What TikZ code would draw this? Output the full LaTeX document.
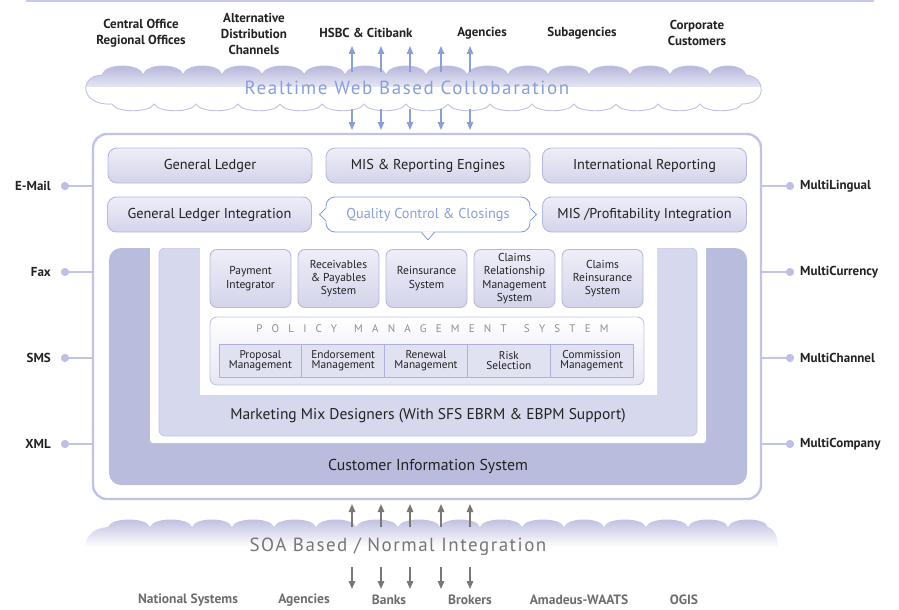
\documentclass[tikz,border=0pt]{standalone}
\usepackage{fontspec}
\setmainfont{PT Sans}
\usetikzlibrary{arrows.meta}
\definecolor{framecol}{HTML}{C0C3E6}
\definecolor{linkcol}{HTML}{C2C4E6}
\definecolor{dotcol}{HTML}{BDC0E4}
\definecolor{boxborder}{HTML}{B6B9DE}
\definecolor{boxtop}{HTML}{EEEEF8}
\definecolor{boxbot}{HTML}{D3D4EA}
\definecolor{custfill}{HTML}{B9BCDD}
\definecolor{mktfill}{HTML}{D6D8ED}
\definecolor{mktborder}{HTML}{C3C6E3}
\definecolor{qcblue}{HTML}{8A9FD6}
\definecolor{arrowblue}{HTML}{8B9FD5}
\definecolor{arrowgray}{HTML}{7B7873}
\definecolor{textdark}{HTML}{222222}
\definecolor{graytext}{HTML}{6D6D70}
\definecolor{soatext}{HTML}{767676}
\definecolor{titlegray}{HTML}{8F8F8F}
\definecolor{cloudtop}{HTML}{AEAFD8}
\definecolor{cloudmid}{HTML}{E4E4F3}
\definecolor{cloudline}{HTML}{C0C2E2}
\definecolor{policyfill}{HTML}{E5E6F4}
\definecolor{cellfill}{HTML}{E1E2F1}
\definecolor{cellborder}{HTML}{AEB2DA}
\definecolor{topline}{HTML}{C6C9E9}
\begin{document}
\begin{tikzpicture}[x=1pt,y=-1pt,
  toplabel/.style={font=\fontsize{13}{16}\selectfont\bfseries, text=textdark, align=center, inner sep=0pt},
  sidelabel/.style={font=\fontsize{13}{14}\selectfont\bfseries, text=textdark, inner sep=0pt},
  botlabel/.style={font=\fontsize{13.5}{14}\selectfont\bfseries, text=graytext, inner sep=0pt},
  bigbox/.style={draw=boxborder, line width=0.9pt, rounded corners=9pt, top color=boxtop, bottom color=boxbot,
    minimum width=204pt, minimum height=35pt, inner sep=0pt, text=textdark, font=\fontsize{14.3}{16}\selectfont},
  smallbox/.style={draw=boxborder, line width=0.9pt, rounded corners=7pt, top color=boxtop, bottom color=boxbot,
    minimum width=81pt, minimum height=58pt, inner sep=0pt, text=textdark, align=center, font=\fontsize{11.5}{13.3}\selectfont},
  cellbox/.style={draw=cellborder, line width=0.8pt, fill=cellfill, minimum width=82.8pt, minimum height=33pt,
    inner sep=0pt, text=textdark, align=center, font=\fontsize{11.3}{10.5}\selectfont},
  dotnode/.style={circle, fill=dotcol, minimum size=8pt, inner sep=0pt},
  link/.style={draw=linkcol, line width=1.3pt},
  uparrowb/.style={draw=arrowblue, line width=1.4pt, -{Triangle[length=8pt,width=6.5pt]}},
  uparrowg/.style={draw=arrowgray, line width=1.4pt, -{Triangle[length=8pt,width=6.5pt]}},
  plaintext/.style={inner sep=0pt}
]
\useasboundingbox (0,0) rectangle (899,610);

% top line
\draw[topline, line width=2pt] (26,1) -- (874,1);

% top labels
\node[toplabel] (tCO) at (141,33) {Central Office\\Regional Offices};
\node[toplabel] (tAD) at (254,34) {Alternative\\Distribution\\Channels};
\node[toplabel] (tHS) at (366,33) {HSBC \& Citibank};
\node[toplabel] (tAG) at (482,33) {Agencies};
\node[toplabel] (tSA) at (582,33) {Subagencies};
\node[toplabel] (tCC) at (697,33) {Corporate\\Customers};

% top cloud
\begin{scope}
\path[clip] (102,75)
  .. controls (105,63) and (140,63) .. (143,75)
  .. controls (146,63) and (180,63) .. (183,75)
  .. controls (186,63) and (219,63) .. (222,75)
  .. controls (225,63) and (259,63) .. (262,75)
  .. controls (265,63) and (301,63) .. (304,75)
  .. controls (307,63) and (342,63) .. (345,75)
  .. controls (348,63) and (383,63) .. (386,75)
  .. controls (389,63) and (423,63) .. (426,75)
  .. controls (429,63) and (464,63) .. (467,75)
  .. controls (470,63) and (505,63) .. (508,75)
  .. controls (511,63) and (545,63) .. (548,75)
  .. controls (551,63) and (586,63) .. (589,75)
  .. controls (592,63) and (627,63) .. (630,75)
  .. controls (633,63) and (667,63) .. (670,75)
  .. controls (673,63) and (707,63) .. (710,75)
  .. controls (713,63) and (743,63) .. (746,75)
  .. controls (766,76) and (768,104) .. (742,104)
  .. controls (738,113) and (704,113) .. (700,104)
  .. controls (696,113) and (662,113) .. (658,104)
  .. controls (654,113) and (620,113) .. (616,104)
  .. controls (612,113) and (578,113) .. (574,104)
  .. controls (570,113) and (536,113) .. (532,104)
  .. controls (528,113) and (494,113) .. (490,104)
  .. controls (486,113) and (452,113) .. (448,104)
  .. controls (444,113) and (410,113) .. (406,104)
  .. controls (402,113) and (368,113) .. (364,104)
  .. controls (360,113) and (326,113) .. (322,104)
  .. controls (318,113) and (284,113) .. (280,104)
  .. controls (276,113) and (242,113) .. (238,104)
  .. controls (234,113) and (200,113) .. (196,104)
  .. controls (192,113) and (158,113) .. (154,104)
  .. controls (150,113) and (116,113) .. (112,104)
  .. controls (80,106) and (78,76) .. (102,75) -- cycle;
\fill[white] (70,55) rectangle (790,120);
\shade[top color=cloudtop, bottom color=cloudmid] (70,62) rectangle (790,86);
\end{scope}
\draw[cloudline, line width=0.9pt] (102,75)
  .. controls (105,63) and (140,63) .. (143,75)
  .. controls (146,63) and (180,63) .. (183,75)
  .. controls (186,63) and (219,63) .. (222,75)
  .. controls (225,63) and (259,63) .. (262,75)
  .. controls (265,63) and (301,63) .. (304,75)
  .. controls (307,63) and (342,63) .. (345,75)
  .. controls (348,63) and (383,63) .. (386,75)
  .. controls (389,63) and (423,63) .. (426,75)
  .. controls (429,63) and (464,63) .. (467,75)
  .. controls (470,63) and (505,63) .. (508,75)
  .. controls (511,63) and (545,63) .. (548,75)
  .. controls (551,63) and (586,63) .. (589,75)
  .. controls (592,63) and (627,63) .. (630,75)
  .. controls (633,63) and (667,63) .. (670,75)
  .. controls (673,63) and (707,63) .. (710,75)
  .. controls (713,63) and (743,63) .. (746,75)
  .. controls (766,76) and (768,104) .. (742,104)
  .. controls (738,113) and (704,113) .. (700,104)
  .. controls (696,113) and (662,113) .. (658,104)
  .. controls (654,113) and (620,113) .. (616,104)
  .. controls (612,113) and (578,113) .. (574,104)
  .. controls (570,113) and (536,113) .. (532,104)
  .. controls (528,113) and (494,113) .. (490,104)
  .. controls (486,113) and (452,113) .. (448,104)
  .. controls (444,113) and (410,113) .. (406,104)
  .. controls (402,113) and (368,113) .. (364,104)
  .. controls (360,113) and (326,113) .. (322,104)
  .. controls (318,113) and (284,113) .. (280,104)
  .. controls (276,113) and (242,113) .. (238,104)
  .. controls (234,113) and (200,113) .. (196,104)
  .. controls (192,113) and (158,113) .. (154,104)
  .. controls (150,113) and (116,113) .. (112,104)
  .. controls (80,106) and (78,76) .. (102,75) -- cycle;
\node[plaintext, text=qcblue, font=\fontsize{19}{22}\selectfont\addfontfeatures{LetterSpace=8.5}] (rtw) at (407,88) {Realtime Web Based Collobaration};

% top arrows
\foreach \i/\x in {1/352,2/381,3/410,4/441,5/470}{
  \coordinate (cu\i) at (\x,72);
  \coordinate (cut\i) at (\x,46);
  \draw[uparrowb] (cu\i) -- (cut\i);
  \coordinate (cd\i) at (\x,109);
  \coordinate (cdt\i) at (\x,130);
  \draw[uparrowb] (cd\i) -- (cdt\i);
}

% outer frame
\node[draw=framecol, line width=2.4pt, rounded corners=14pt, fill=white, minimum width=668pt, minimum height=365pt, inner sep=0pt] (frame) at (427,316.5) {};

% rows
\node[bigbox] (gl) at (210,165.5) {General Ledger};
\node[bigbox] (mis) at (428,165.5) {MIS \& Reporting Engines};
\node[bigbox] (ir) at (644.5,165.5) {International Reporting};
\node[bigbox] (gli) at (209.5,214.5) {General Ledger Integration};
\node[bigbox] (mpi) at (644.5,214.5) {MIS /Profitability Integration};
\node[draw=qcblue, line width=0.9pt, rounded corners=9pt, fill=white, minimum width=204pt, minimum height=35pt, inner sep=0pt,
  text=qcblue, font=\fontsize{14.3}{16}\selectfont] (qc) at (428,214.5) {Quality Control \& Closings};
% callout pointers
\fill[white] (qc.south) ++(-7,-1.2) -- ++(14,0) -- (428,239.5) -- cycle;
\draw[qcblue, line width=0.9pt] (qc.south) ++(-6.5,0) -- (428,240) -- ++(6.5,-8);
\fill[white] (qc.west) ++(1.2,-6.5) -- ++(0,13) -- ++(-6.5,-6.5) -- cycle;
\draw[qcblue, line width=0.9pt] (qc.west) ++(0,-6) -- ++(-6,6) -- ++(6,6);
\fill[white] (qc.east) ++(-1.2,-6.5) -- ++(0,13) -- ++(6.5,-6.5) -- cycle;
\draw[qcblue, line width=0.9pt] (qc.east) ++(0,-6) -- ++(6,6) -- ++(-6,6);

% customer information system
\fill[custfill, rounded corners=12pt] (109,248) rectangle (747,485);
\fill[white, rounded corners=3pt] (150,240) rectangle (706,443);
\node[plaintext, text=textdark, font=\fontsize{15.8}{17}\selectfont] (cis) at (428,466) {Customer Information System};
% marketing mix
\filldraw[fill=mktfill, draw=mktborder, line width=0.7pt, rounded corners=6pt] (159,248) rectangle (697,436);
\fill[white] (200,240) rectangle (657,395);
\fill[white] (155,244) rectangle (702,248.4);
\node[plaintext, text=textdark, font=\fontsize{15.5}{17}\selectfont] (mmd) at (428,416) {Marketing Mix Designers (With SFS EBRM \& EBPM Support)};

% small boxes
\node[smallbox] (pay) at (250.5,278.5) {Payment\\Integrator};
\node[smallbox] (rec) at (338.5,278.5) {Receivables\\\& Payables\\System};
\node[smallbox] (rei) at (426.5,278.5) {Reinsurance\\System};
\node[smallbox] (crm) at (514.5,278.5) {Claims\\Relationship\\Management\\System};
\node[smallbox] (crs) at (602.5,278.5) {Claims\\Reinsurance\\System};

% policy management system
\node[draw=mktborder, line width=0.9pt, rounded corners=7pt, top color=white, bottom color=policyfill, minimum width=434pt, minimum height=68pt, inner sep=0pt] (pms) at (427,351) {};
\node[plaintext, text=titlegray, font=\fontsize{11}{12}\selectfont\addfontfeatures{LetterSpace=84}] (pmst) at (432.5,329) {POLICY\hspace{5pt} MANAGEMENT\hspace{5pt} SYSTEM};
\node[cellbox] (c1) at (260.4,360.5) {Proposal\\Management};
\node[cellbox] (c2) at (343.2,360.5) {Endorsement\\Management};
\node[cellbox] (c3) at (426.0,360.5) {Renewal\\Management};
\node[cellbox] (c4) at (508.8,360.5) {Risk\\Selection};
\node[cellbox] (c5) at (591.6,360.5) {Commission\\Management};

% left side
\foreach \n/\y/\t in {E/186/E-Mail,F/272/Fax,S/358/SMS,X/444/XML}{
  \node[dotnode] (d\n) at (65,\y) {};
  \draw[link] (d\n.center) -- (d\n -| frame.west);
  \node[dotnode] at (d\n) {};
  \node[sidelabel, anchor=east] (l\n) at (51,\y) {\t};
}
% right side
\foreach \n/\y/\t in {L/186/MultiLingual,C/272/MultiCurrency,H/358/MultiChannel,K/444/MultiCompany}{
  \node[dotnode] (r\n) at (790,\y) {};
  \draw[link] (frame.east |- r\n) -- (r\n.center);
  \node[dotnode] at (r\n) {};
  \node[sidelabel, anchor=west] (m\n) at (800,\y) {\t};
}

% bottom cloud
\shade[top color=cloudtop!85, bottom color=white] (85,547)
  .. controls (86,534) and (95,528) .. (108,527)
  .. controls (111,517) and (147,517) .. (150,527)
  .. controls (153,517) and (189,517) .. (192,527)
  .. controls (195,517) and (229,517) .. (232,527)
  .. controls (235,517) and (271,517) .. (274,527)
  .. controls (277,517) and (313,517) .. (316,527)
  .. controls (319,517) and (353,517) .. (356,527)
  .. controls (359,517) and (395,517) .. (398,527)
  .. controls (401,517) and (437,517) .. (440,527)
  .. controls (443,517) and (477,517) .. (480,527)
  .. controls (483,517) and (519,517) .. (522,527)
  .. controls (525,517) and (561,517) .. (564,527)
  .. controls (567,517) and (601,517) .. (604,527)
  .. controls (607,517) and (643,517) .. (646,527)
  .. controls (649,517) and (685,517) .. (688,527)
  .. controls (691,517) and (725,517) .. (728,527)
  .. controls (731,517) and (765,517) .. (768,527)
  .. controls (776,530) and (778,540) .. (778,547) -- cycle;
\node[plaintext, text=soatext, font=\fontsize{19}{22}\selectfont\addfontfeatures{LetterSpace=8}] (soa) at (398,547) {SOA Based / Normal Integration};

% bottom arrows
\foreach \i/\x in {1/352,2/381,3/410,4/441,5/470}{
  \coordinate (bu\i) at (\x,527);
  \coordinate (but\i) at (\x,504);
  \draw[uparrowg] (bu\i) -- (but\i);
  \coordinate (bd\i) at (\x,567);
  \coordinate (bdt\i) at (\x,589);
  \draw[uparrowg] (bd\i) -- (bdt\i);
}

% bottom labels
\node[botlabel] (bNS) at (188,600) {National Systems};
\node[botlabel] (bAG) at (304,600) {Agencies};
\node[botlabel] (bBA) at (389,600) {Banks};
\node[botlabel] (bBR) at (470,600) {Brokers};
\node[botlabel] (bAM) at (579,600) {Amadeus-WAATS};
\node[botlabel] (bOG) at (684,600) {OGIS};
\end{tikzpicture}
\end{document}
